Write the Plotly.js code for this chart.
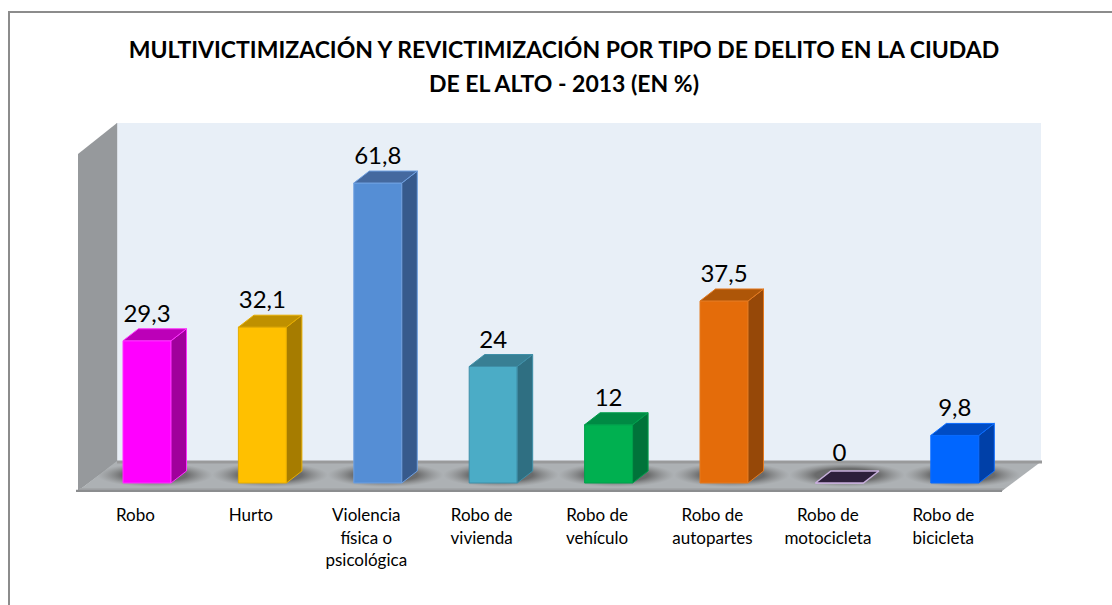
<!DOCTYPE html>
<html>
<head>
<meta charset="utf-8">
<script src="https://cdn.plot.ly/plotly-3.0.1.min.js"></script>
<style>html,body{margin:0;padding:0;background:#fff}</style>
</head>
<body>
<div id="chart" style="width:1112px;height:605px"></div>
<script>
// ---- data ----
var categories = ["Robo","Hurto","Violencia<br>física o<br>psicológica","Robo de<br>vivienda","Robo de<br>vehículo","Robo de<br>autopartes","Robo de<br>motocicleta","Robo de<br>bicicleta"];
var values = [29.3,32.1,61.8,24,12,37.5,0,9.8];
// ---- styles ----
var frontColors = ["#ff00ff","#ffc000","#558ed5","#4bacc6","#00b050","#e46c0a","#2d1f3a","#0066ff"];
var sideColors  = ["#a0009c","#a67c00","#375a8c","#2f6f82","#00733a","#964808","#2d1f3a","#0040a8"];
var topColors   = ["#bc00b8","#bf9000","#44699f","#387f94","#008a44","#ae5608","#2d1f3a","#004cc4"];
var edgeColors  = ["#ff33ff","#e6ad00","#6fa0e0","#3f8fa8","#00a04c","#e47a20","#c8b0dc","#0a6cff"];

// ---- geometry (pixels of the 1112x605 page mapped to axis units) ----
var pxPerCat = 115.4, pxPerVal = 4.854, firstPx = 147, zeroPx = 483, bottomPx = 492;
var xRange = [-firstPx/pxPerCat, (1112-firstPx)/pxPerCat];
var yRange = [(zeroPx-bottomPx)/pxPerVal, zeroPx/pxPerVal];
function X(px){ return (px-firstPx)/pxPerCat; }
function Y(px){ return (zeroPx-px)/pxPerVal; }
var barPx = 48, depthX = 15.5, depthY = 12;
var halfW = barPx/2/pxPerCat, dX = depthX/pxPerCat, dY = depthY/pxPerVal;
var labelLift = 25/pxPerVal, zeroLift = 28/pxPerVal;

function poly(pts){ return 'M'+pts.map(function(p){return X(p[0])+','+Y(p[1]);}).join('L')+'Z'; }
function wall(pts,fill,lineC,lw){
  return {type:'path',xref:'x',yref:'y',layer:'below',path:poly(pts),fillcolor:fill,line:{color:lineC||fill,width:lw||0}};
}
function hline(x0,x1,y,c,w){
  return {type:'line',xref:'x',yref:'y',layer:'below',x0:X(x0),x1:X(x1),y0:Y(y),y1:Y(y),line:{color:c,width:w}};
}
var shapes = [
  wall([[117,123],[1041,123],[1041,462],[117,462]],'#e8eff7'),
  {type:'line',xref:'x',yref:'y',layer:'below',x0:X(117),x1:X(117),y0:Y(123),y1:Y(462),line:{color:'#c9ced3',width:1}},
  wall([[78,154],[117,123],[117,462],[78,491]],'#96999c'),
  wall([[117,461],[1042,461],[1002,491],[78,491]],'#adb1b4'),
  hline(117,1042,462,'#999a9b',3),
  wall([[80,488],[1005,488],[1002,491],[78,491]],'#a3a6a8'),
  hline(76,1002,491,'#8b8d8f',2.5),
  // page frame: top and left only
  {type:'line',xref:'paper',yref:'paper',x0:8/1112,x1:1,y0:1-12/492,y1:1-12/492,line:{color:'#8c8c8c',width:2}},
  {type:'line',xref:'paper',yref:'paper',x0:9/1112,x1:9/1112,y0:1-11/492,y1:1-605/492,line:{color:'#8c8c8c',width:2}}
];

var traces = [];
// soft floor shadows (base subplot, beneath the bars)
values.forEach(function(v,i){
  var cx = firstPx + i*pxPerCat + depthX/2, half = 58;
  traces.push({x:[X(cx-half),X(cx+half),X(cx+half),X(cx-half),X(cx-half)],
    y:[Y(487),Y(487),Y(463),Y(463),Y(487)],
    mode:'lines',line:{width:0},fill:'toself',hoverinfo:'skip',showlegend:false,
    fillgradient:{type:'radial',colorscale:[[0,'rgba(90,90,90,0.85)'],[0.55,'rgba(90,90,90,0.8)'],[0.8,'rgba(110,110,110,0.35)'],[1,'rgba(130,130,130,0)']]}
  });
});
// front faces
traces.push({type:'bar',x:values.map(function(v,i){return i;}),y:values,xaxis:'x2',yaxis:'y2',
  width:barPx/pxPerCat,marker:{color:frontColors,line:{color:edgeColors,width:1}},hoverinfo:'skip',showlegend:false});
// side and top faces derived from the values
values.forEach(function(v,i){
  var r=i+halfW,l=i-halfW;
  if(v>0){
    traces.push({x:[r,r+dX,r+dX,r,r],y:[0,dY,v+dY,v,0],xaxis:'x2',yaxis:'y2',mode:'lines',fill:'toself',
      fillcolor:sideColors[i],line:{color:edgeColors[i],width:1},hoverinfo:'skip',showlegend:false});
  }
  traces.push({x:[l,l+dX,r+dX,r,l],y:[v,v+dY,v+dY,v,v],xaxis:'x2',yaxis:'y2',mode:'lines',fill:'toself',
    fillcolor:topColors[i],line:{color:edgeColors[i],width:v===0?1.5:1},hoverinfo:'skip',showlegend:false});
});
// value labels
traces.push({x:values.map(function(v,i){return i;}),
  y:values.map(function(v){return v+(v===0?zeroLift:labelLift);}),xaxis:'x2',yaxis:'y2',
  mode:'text',text:values.map(function(v){return String(v).replace('.',',');}),
  textposition:'middle center',textfont:{family:'Lato, Carlito, sans-serif',size:24,color:'#000'},
  hoverinfo:'skip',showlegend:false});

var layout = {
  width:1112,height:605,paper_bgcolor:'#fff',plot_bgcolor:'rgba(0,0,0,0)',showlegend:false,
  margin:{l:0,r:0,t:0,b:605-bottomPx,pad:0},
  title:{text:'<span style="font-size:23px">MULTIVICTIMIZACIÓN Y REVICTIMIZACIÓN POR TIPO DE DELITO EN LA CIUDAD<br>DE EL ALTO - 2013 (EN %)</span>',
    font:{family:'Lato, Carlito, sans-serif',size:26,color:'#000',weight:700},
    x:564/1112,xref:'paper',xanchor:'center',y:1-58/605,yref:'container',yanchor:'top'},
  xaxis:{type:'linear',range:xRange,tickmode:'array',
    tickvals:categories.map(function(c,i){return i-0.1;}),ticktext:categories,
    showgrid:false,zeroline:false,showline:false,ticks:'outside',ticklen:8,tickcolor:'rgba(0,0,0,0)',
    tickfont:{family:'Lato, Carlito, sans-serif',size:17,color:'#000'}},
  yaxis:{range:yRange,showgrid:false,zeroline:false,showline:false,showticklabels:false,ticks:''},
  xaxis2:{overlaying:'x',range:xRange,visible:false,anchor:'y2'},
  yaxis2:{overlaying:'y',range:yRange,visible:false,anchor:'x2'},
  shapes:shapes
};
Plotly.newPlot('chart',traces,layout,{displayModeBar:false,staticPlot:true});
</script>
</body>
</html>
